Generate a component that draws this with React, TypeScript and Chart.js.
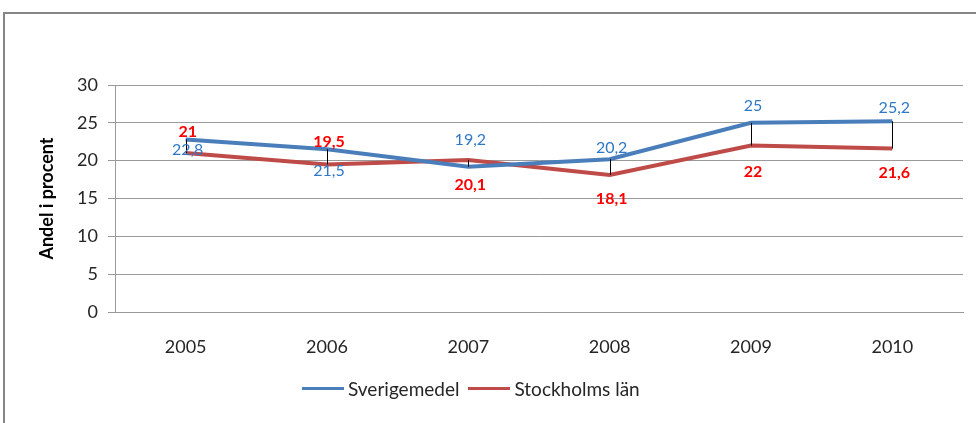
import React, { useEffect, useRef } from "react";
import { Chart, registerables } from "chart.js";

Chart.register(...registerables);

const categories = ["2005", "2006", "2007", "2008", "2009", "2010"];
const sverigemedel = [22.8, 21.5, 19.2, 20.2, 25, 25.2];
const stockholmsLan = [21, 19.5, 20.1, 18.1, 22, 21.6];
const seriesNames = ["Sverigemedel", "Stockholms län"];
const yMin = 0;
const yMax = 30;
const yStep = 5;

const BLUE = "#4A7EBB";
const RED = "#BE4B48";
const BLUE_LABEL = "#2F78C5";
const RED_LABEL = "#FF0000";
const FONT = "Lato, 'Open Sans', sans-serif";

// label vertical offsets (px) relative to each point, as placed in the reference
const labelDy = [
  [10, 22, -27, -11, -17, -13],
  [-21, -23, 25, 24, 26, 24],
];

const fmt = (v: number) => String(v).replace(".", ",");

const overlayPlugin = {
  id: "overlay",
  afterDatasetsDraw(chart: any) {
    const { ctx } = chart;
    const x = chart.scales.x;
    const y = chart.scales.y;
    ctx.save();
    // high-low lines
    ctx.strokeStyle = "#000";
    ctx.lineWidth = 1;
    categories.forEach((_, i) => {
      const px = Math.round(x.getPixelForValue(i)) + 0.5;
      ctx.beginPath();
      ctx.moveTo(px, y.getPixelForValue(sverigemedel[i]));
      ctx.lineTo(px, y.getPixelForValue(stockholmsLan[i]));
      ctx.stroke();
    });
    // data labels
    ctx.textAlign = "center";
    ctx.textBaseline = "middle";
    const sets = [
      { data: sverigemedel, color: BLUE_LABEL, weight: "normal" },
      { data: stockholmsLan, color: RED_LABEL, weight: "bold" },
    ];
    sets.forEach((s, si) => {
      ctx.fillStyle = s.color;
      ctx.font = `${s.weight} 16px ${FONT}`;
      s.data.forEach((v, i) => {
        const px = x.getPixelForValue(i) + 2;
        const py = y.getPixelForValue(v) + labelDy[si][i];
        ctx.fillText(fmt(v), px, py);
      });
    });
    ctx.restore();
  },
};

export default function App() {
  const canvasRef = useRef<HTMLCanvasElement | null>(null);

  useEffect(() => {
    const canvas = canvasRef.current;
    if (!canvas) return;
    const chart = new Chart(canvas, {
      type: "line",
      data: {
        labels: categories,
        datasets: [
          {
            label: seriesNames[0],
            data: sverigemedel,
            borderColor: BLUE,
            backgroundColor: BLUE,
            borderWidth: 4,
            pointRadius: 0,
            tension: 0,
          },
          {
            label: seriesNames[1],
            data: stockholmsLan,
            borderColor: RED,
            backgroundColor: RED,
            borderWidth: 4,
            pointRadius: 0,
            tension: 0,
          },
        ],
      },
      options: {
        animation: false,
        responsive: false,
        maintainAspectRatio: false,
        layout: { padding: { left: 30, right: 13, top: 85, bottom: 0 } },
        plugins: {
          legend: { display: false },
          tooltip: { enabled: false },
          title: { display: false },
        },
        scales: {
          x: {
            offset: true,
            grid: { display: false, drawTicks: false },
            border: { display: true, color: "#9a9a9a", width: 1 },
            ticks: {
              color: "#262626",
              font: { family: FONT, size: 18 },
              padding: 24,
              maxRotation: 0,
            },
            afterFit(scale: any) {
              scale.height = 111;
            },
          },
          y: {
            min: yMin,
            max: yMax,
            grid: {
              color: "#9a9a9a",
              lineWidth: 1,
              tickLength: 7,
              drawTicks: true,
            },
            border: { display: true, color: "#9a9a9a", width: 1 },
            ticks: {
              stepSize: yStep,
              color: "#262626",
              font: { family: FONT, size: 18 },
              padding: 10,
            },
            title: {
              display: true,
              text: "Andel i procent",
              color: "#000",
              font: { family: FONT, size: 18, weight: "bold" },
              padding: { top: 6, bottom: 0 },
            },
            afterFit(scale: any) {
              scale.width = 85;
            },
          },
        },
      },
      plugins: [overlayPlugin],
    });
    return () => chart.destroy();
  }, []);

  const legendItem = (color: string, text: string) => (
    <div style={{ display: "flex", alignItems: "center", marginRight: 9 }}>
      <div style={{ width: 42, height: 3, background: color, marginRight: 4 }} />
      <span>{text}</span>
    </div>
  );

  return (
    <div
      style={{
        position: "fixed",
        left: 0,
        top: 0,
        width: 976,
        height: 423,
        background: "#fff",
        overflow: "hidden",
      }}
    >
      <div
        style={{
          position: "absolute",
          left: 3,
          top: 12,
          width: 1000,
          height: 440,
          border: "2px solid #868686",
          boxSizing: "border-box",
        }}
      />
      <canvas
        ref={canvasRef}
        width={976}
        height={423}
        style={{ position: "absolute", left: 0, top: 0, width: 976, height: 423 }}
      />
      <div
        style={{
          position: "absolute",
          left: 302,
          top: 377,
          display: "flex",
          alignItems: "center",
          fontFamily: FONT,
          fontSize: 19,
          color: "#262626",
          whiteSpace: "nowrap",
        }}
      >
        {legendItem(BLUE, seriesNames[0])}
        {legendItem(RED, seriesNames[1])}
      </div>
    </div>
  );
}
